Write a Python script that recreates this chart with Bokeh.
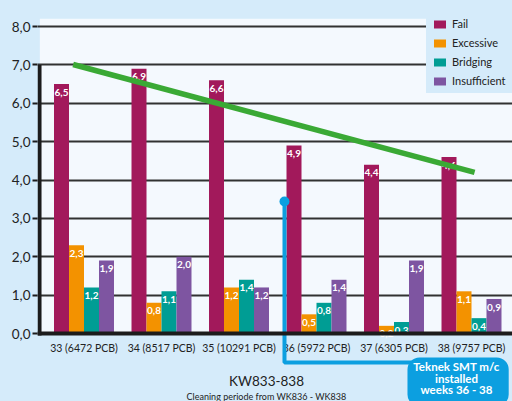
import numpy as np
from bokeh.plotting import figure
from bokeh.models import (Range1d, FixedTicker, BoxAnnotation, Span, Label,
                          ColumnDataSource, GlobalInlineStyleSheet)
from bokeh.core.properties import value
from bokeh.embed import file_html
from bokeh.resources import INLINE

# ---------------- data ----------------
weeks = ["33 (6472 PCB)", "34 (8517 PCB)", "35 (10291 PCB)",
         "36 (5972 PCB)", "37 (6305 PCB)", "38 (9757 PCB)"]
fail = [6.5, 6.9, 6.6, 4.9, 4.4, 4.6]
excessive = [2.3, 0.8, 1.2, 0.5, 0.2, 1.1]
bridging = [1.2, 1.1, 1.4, 0.8, 0.3, 0.4]
insufficient = [1.9, 2.0, 1.2, 1.4, 1.9, 0.9]
series_names = ["Fail", "Excessive", "Bridging", "Insufficient"]
y_ticks = [0, 1, 2, 3, 4, 5, 6, 7, 8]
trend_values = [7.01, 4.2]          # green trend line, start / end
install_marker_value = 3.44         # blue marker top
x_title = "KW833-838"
x_subtitle = "Cleaning periode from WK836 - WK838"
callout_lines = ["Teknek SMT m/c", "installed", "weeks 36 - 38"]

# ---------------- style ----------------
FONT = "Lato"
PAGE_BG = "#d5ebfa"
PLOT_BG = "#f4f9fe"
COLORS = ["#a2195b", "#f39200", "#009d94", "#7e55a1"]
BLUE = "#0c9fe0"
GREEN = "#3aa935"
DARK = "#1c1c1c"
TEXT = "#222222"

x0, x1 = -0.6, 5.529
y0, y1 = -1.772, 8.678

p = figure(width=512, height=401, output_backend="svg", toolbar_location=None,
           x_range=Range1d(x0, x1), y_range=Range1d(y0, y1),
           x_axis_type=None, min_border_left=37, min_border_right=0,
           min_border_top=0, min_border_bottom=0)
p.background_fill_color = PAGE_BG
p.border_fill_color = PAGE_BG
p.outline_line_color = None
p.xgrid.visible = False
p.stylesheets = [GlobalInlineStyleSheet(css="body{background:%s;}" % PAGE_BG)]

# y axis
ticker = FixedTicker(ticks=y_ticks)
p.yaxis.ticker = ticker
p.yaxis.bounds = (0, 8)
p.yaxis.axis_line_color = None
p.yaxis.major_tick_in = 0
p.yaxis.major_tick_out = 5
p.yaxis.major_tick_line_width = 2
p.yaxis.major_tick_line_color = DARK
p.yaxis.minor_tick_line_color = None
p.yaxis.major_label_standoff = 2
p.yaxis.major_label_overrides = {t: f"{t},0" for t in y_ticks}
p.yaxis.major_label_text_font = FONT
p.yaxis.major_label_text_font_size = "13.5px"
p.yaxis.major_label_text_color = TEXT
p.ygrid.ticker = ticker
p.ygrid.grid_line_color = DARK
p.ygrid.grid_line_width = 2
p.ygrid.grid_line_alpha = 0.9

# plot background box
p.add_layout(BoxAnnotation(left=x0 + 0.03, right=x1, bottom=0, top=8.2,
                           fill_color=PLOT_BG, fill_alpha=1, line_color=None,
                           level="image"))

# bars
idx = np.arange(len(weeks))
w = 0.1935
offsets = [-1.5 * w, -0.5 * w, 0.5 * w, 1.5 * w]
all_series = [fail, excessive, bridging, insufficient]
for name, vals, off, col in zip(series_names, all_series, offsets, COLORS):
    src = ColumnDataSource(dict(x=idx + off, top=vals,
                                ty=[v - 0.21 for v in vals],
                                lab=[f"{v:.1f}".replace(".", ",") for v in vals]))
    p.vbar(x="x", top="top", bottom=0, width=w, source=src, fill_color=col,
           line_color=None, legend_label=name)
    p.text(x="x", y="ty", text="lab", source=src, text_color="white",
           text_font=value(FONT), text_font_style="bold", text_font_size="10px",
           text_align="center", text_baseline="middle")

# axes bars
p.add_layout(Span(location=0, dimension="width", line_color=DARK, line_width=4))
p.add_layout(BoxAnnotation(left=x0, right=x0 + 0.052, bottom=-0.05, top=7,
                           fill_color=DARK, fill_alpha=1, line_color=None))

# x tick labels
p.text(x=idx, y=[-0.39] * len(weeks), text=weeks, text_font=value(FONT),
       text_font_size="10.5px", text_color=TEXT, text_align="center",
       text_baseline="middle")

# trend line
p.line(x=[idx[0] - 0.14, idx[-1] + 0.04], y=trend_values, line_color=GREEN,
       line_width=5.5)

# installation marker
mx = 2.587
p.line(x=[mx, mx, 4.25], y=[install_marker_value, -0.756, -0.756],
       line_color=BLUE, line_width=4)
p.scatter(x=[mx], y=[install_marker_value], size=10, fill_color=BLUE,
          line_color=None)
p.add_layout(BoxAnnotation(left=4.174, right=5.48, bottom=-1.9, top=-0.625,
                           fill_color=BLUE, fill_alpha=1, line_color=None,
                           border_radius=12, level="overlay"))
for line, yy in zip(callout_lines, [-0.86, -1.16, -1.46]):
    p.add_layout(Label(x=4.806, y=yy, text=line, text_color="white",
                       text_font=FONT, text_font_style="bold",
                       text_font_size="11.5px", text_align="center",
                       text_baseline="middle", level="overlay"))

# x titles
p.add_layout(Label(x=2.355, y=-1.225, text=x_title, text_font=FONT,
                   text_font_size="13.5px", text_color=TEXT,
                   text_align="center", text_baseline="middle"))
p.add_layout(Label(x=2.355, y=-1.63, text=x_subtitle, text_font=FONT,
                   text_font_size="9px", text_color=TEXT,
                   text_align="center", text_baseline="middle"))

# legend
lg = p.legend[0]
lg.location = (389, 308)
lg.margin = 0
lg.padding = 6
lg.spacing = 6
lg.glyph_width = 15
lg.glyph_height = 10
lg.label_height = 12
lg.label_standoff = 5
lg.label_text_font = FONT
lg.label_text_font_size = "11px"
lg.label_text_color = TEXT
lg.background_fill_color = PAGE_BG
lg.background_fill_alpha = 1
lg.border_line_alpha = 0

open("out.html", "w").write(file_html(p, INLINE))
